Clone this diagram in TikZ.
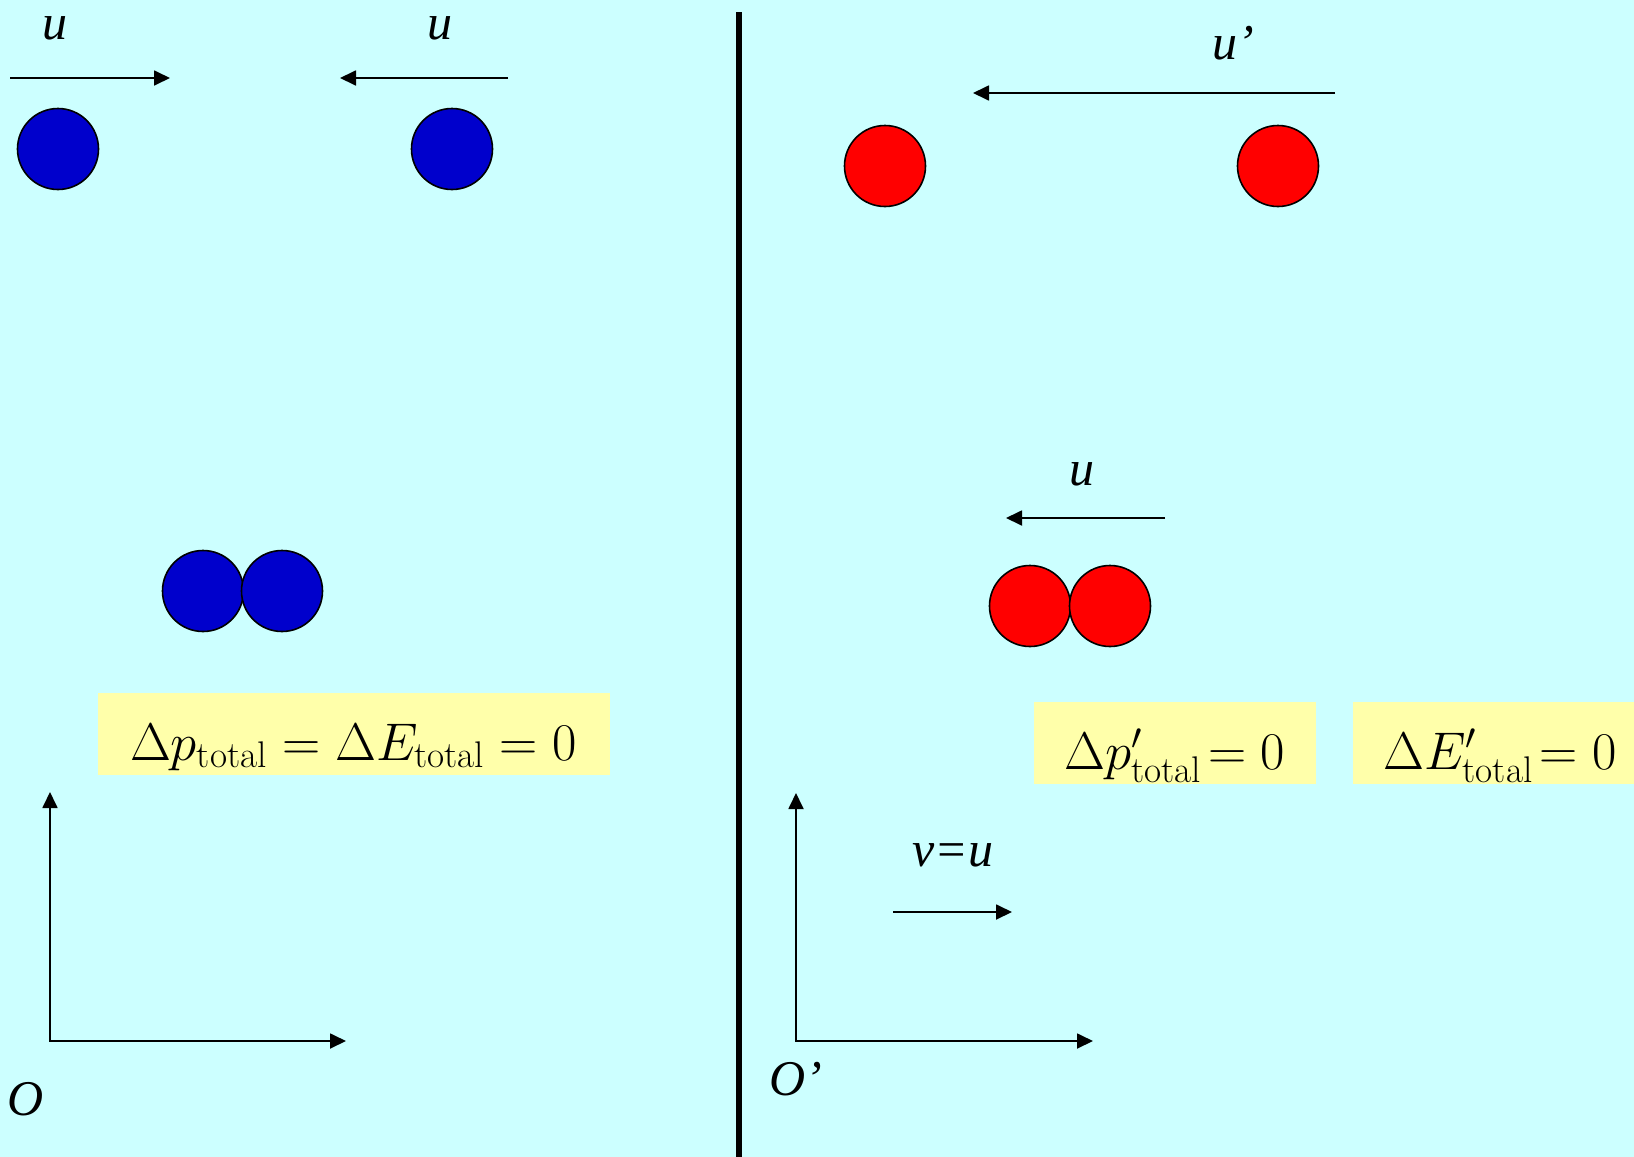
\RequirePackage{fix-cm}
\documentclass[tikz,border=0pt]{standalone}
\usepackage{fontspec}
\newfontfamily\labelfont{Liberation Serif}
\usetikzlibrary{arrows.meta}
\definecolor{bgcyan}{RGB}{204,255,255}
\definecolor{ballblue}{RGB}{0,0,204}
\definecolor{ballred}{RGB}{255,0,0}
\definecolor{boxyellow}{RGB}{255,255,170}
\begin{document}
\begin{tikzpicture}[
    x=0.5pt, y=-0.5pt,
    ball/.style={circle, draw=black, line width=0.8pt, minimum size=40.5pt, inner sep=0pt},
    blueball/.style={ball, fill=ballblue},
    redball/.style={ball, fill=ballred},
    vel/.style={line width=0.9pt, -{Triangle[length=8pt,width=7.5pt]}},
    axes/.style={line width=0.9pt, {Triangle[length=8pt,width=7.5pt]}-{Triangle[length=8pt,width=7.5pt]}},
    lab/.style={font=\labelfont\itshape\fontsize{25}{30}\selectfont, inner sep=0pt},
    sumbox/.style={fill=boxyellow, minimum height=41pt, inner sep=0pt, text height=30pt, text depth=4pt, font=\fontsize{26.5}{30}\selectfont}
]
\fill[bgcyan] (0,0) rectangle (1634,1157);
\useasboundingbox (0,0) rectangle (1634,1157);
\draw[line width=3pt] (739,12) -- (739,1157);

% frame O
\node[blueball] (ballA) at (58,149) {};
\node[blueball] (ballB) at (452,149) {};
\draw[vel] (10,78) -- (170,78);
\draw[vel] (508,78) -- (340,78);
\node[lab] (uA) at (55,28) {u};
\node[lab] (uB) at (440,28) {u};

\node[blueball] (pairA) at (203,591) {};
\node[blueball] (pairB) at (282,591) {};

\node[sumbox, minimum width=256pt] (sumO) at (353.5,734)
    {$\Delta p_{\mathrm{total}} = \Delta E_{\mathrm{total}} = 0$};

\draw[axes] (50,792) -- (50,1041) -- (346,1041);
\node[lab] (origO) at (26,1099) {O};

% frame O'
\node[redball] (ballC) at (885,166) {};
\node[redball] (ballD) at (1278,166) {};
\draw[vel] (1335,93) -- (973,93);
\node[lab] (uprime) at (1233,43) {u’};

\node[redball] (pairC) at (1030,606) {};
\node[redball] (pairD) at (1110,606) {};
\draw[vel] (1165,518) -- (1006,518);
\node[lab] (uC) at (1082,474) {u};

\node[sumbox, minimum width=141pt] (sumP) at (1175,743)
    {$\Delta p'_{\mathrm{total}}\!= 0$};
\node[sumbox, anchor=west, inner xsep=15pt, text width=125pt, align=left] (sumE) at (1353,743)
    {$\Delta E'_{\mathrm{total}}\!= 0$};

\draw[axes] (796,793) -- (796,1041) -- (1093,1041);
\draw[vel] (893,912) -- (1012,912);
\node[lab] (vlab) at (953,855) {v=u};
\node[lab] (origP) at (796,1079) {O’};
\end{tikzpicture}
\end{document}
